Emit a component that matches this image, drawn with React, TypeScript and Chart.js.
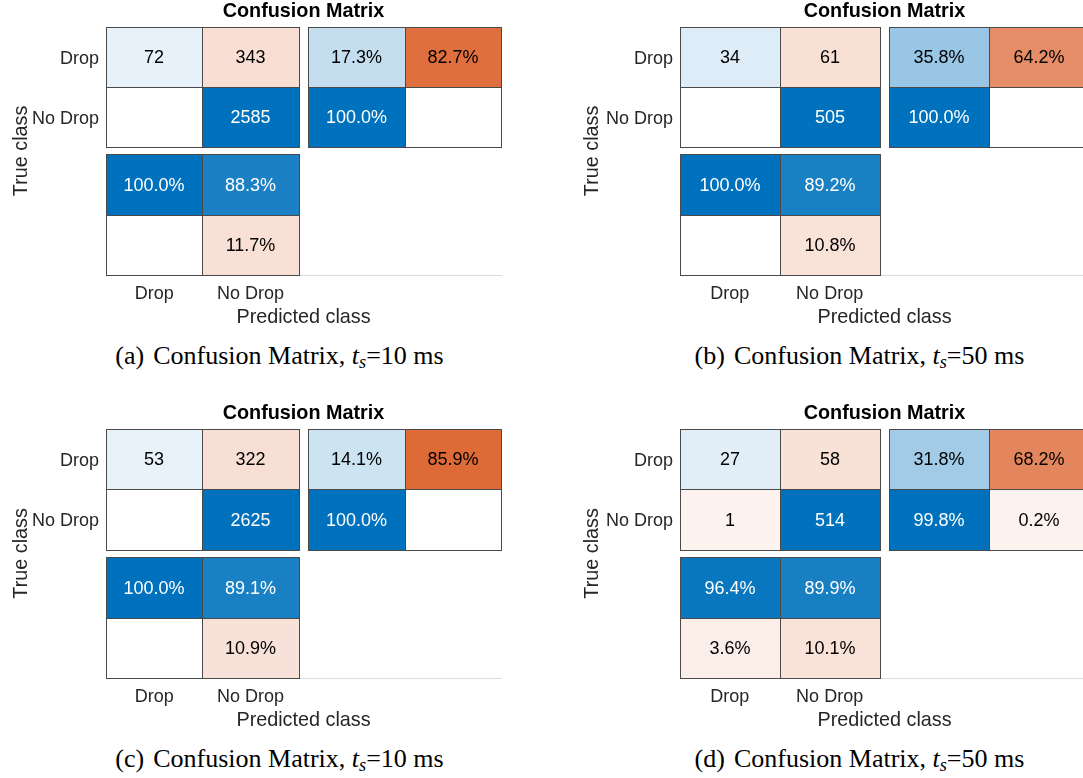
import React, { useEffect, useRef } from 'react';
import { Chart, registerables } from 'chart.js';

Chart.register(...registerables);

// Class names shared by every matrix (true class rows, predicted class columns)
const CLASS_LABELS = ['Drop', 'No Drop'];

// Confusion counts: rows = true class, columns = predicted class
const COUNTS_A = [
  [72, 343],
  [0, 2585],
];
const COUNTS_B = [
  [34, 61],
  [0, 505],
];
const COUNTS_C = [
  [53, 322],
  [0, 2625],
];
const COUNTS_D = [
  [27, 58],
  [1, 514],
];

const PANEL_COUNTS = [COUNTS_A, COUNTS_B, COUNTS_C, COUNTS_D];
const PANEL_TAGS = ['(a)', '(b)', '(c)', '(d)'];
const SAMPLING_MS = [10, 50, 10, 50];

// Gaps (in cell units) between the matrix and its summary blocks
const GAP_X = 0.1;
const GAP_Y = 0.12;

const BLUE = [0, 114, 189];
const ORANGE = [217, 83, 25];
const SANS = '"Liberation Sans", Arial, Helvetica, sans-serif';
const SERIF = '"Liberation Serif", "Times New Roman", Times, serif';
const AXIS_TEXT = '#262626';

// Canvas placement of each panel on the page
const FRAMES = [
  { left: 0, top: 0, width: 541, height: 335, axisW: 106, padRight: 40, capX: 279.5, capTop: 343 },
  { left: 571, top: 0, width: 518, height: 335, axisW: 109, padRight: 0, capX: 859.5, capTop: 343 },
  { left: 0, top: 402, width: 541, height: 336, axisW: 106, padRight: 40, capX: 279.5, capTop: 745.5 },
  { left: 571, top: 402, width: 518, height: 336, axisW: 109, padRight: 0, capX: 859.5, capTop: 745.5 },
];

type Cell = {
  x0: number;
  x1: number;
  y0: number;
  y1: number;
  fill: string;
  label: string;
  textColor: string;
};

function shade(base: number[], ratio: number) {
  if (ratio <= 0) return { fill: '#ffffff', alpha: 0 };
  const a = Math.min(1, 0.07 + 0.93 * ratio);
  const ch = base.map((v) => Math.round(255 + (v - 255) * a));
  return { fill: `rgb(${ch.join(',')})`, alpha: a };
}

function makeCell(x0: number, y0: number, base: number[], ratio: number, label: string): Cell {
  const s = shade(base, ratio);
  const textColor = base === BLUE && s.alpha > 0.5 ? '#ffffff' : '#000000';
  return { x0, x1: x0 + 1, y0, y1: y0 + 1, fill: s.fill, label, textColor };
}

const pct = (v: number) => (v > 0 ? `${(v * 100).toFixed(1)}%` : '');

function buildCells(counts: number[][]): Cell[] {
  const n = counts.length;
  const maxCount = Math.max(...counts.flat());
  const cells: Cell[] = [];
  // main matrix
  for (let r = 0; r < n; r++) {
    for (let c = 0; c < n; c++) {
      const v = counts[r][c];
      cells.push(makeCell(c, r, r === c ? BLUE : ORANGE, v / maxCount, v > 0 ? String(v) : ''));
    }
  }
  // row summary (per true class)
  for (let r = 0; r < n; r++) {
    const total = counts[r].reduce((s, v) => s + v, 0);
    const good = counts[r][r] / total;
    const bad = (total - counts[r][r]) / total;
    cells.push(makeCell(n + GAP_X, r, BLUE, good, pct(good)));
    cells.push(makeCell(n + GAP_X + 1, r, ORANGE, bad, pct(bad)));
  }
  // column summary (per predicted class)
  for (let c = 0; c < n; c++) {
    const total = counts.reduce((s, row) => s + row[c], 0);
    const good = counts[c][c] / total;
    const bad = (total - counts[c][c]) / total;
    cells.push(makeCell(c, n + GAP_Y, BLUE, good, pct(good)));
    cells.push(makeCell(c, n + GAP_Y + 1, ORANGE, bad, pct(bad)));
  }
  return cells;
}

const confusionCellsPlugin = {
  id: 'confusionCells',
  afterDatasetsDraw(chart: any, _args: any, opts: any) {
    const { ctx } = chart;
    const xs = chart.scales.x;
    const ys = chart.scales.y;
    const cells: Cell[] = opts.cells || [];
    const px = (v: number) => Math.round(xs.getPixelForValue(v));
    const py = (v: number) => Math.round(ys.getPixelForValue(v));
    const rects = cells.map((c) => {
      const l = px(c.x0);
      const r = px(c.x1);
      const a = py(c.y0);
      const b = py(c.y1);
      return { l, r, t: Math.min(a, b), b: Math.max(a, b), cell: c };
    });
    ctx.save();
    rects.forEach(({ l, r, t, b, cell }) => {
      ctx.fillStyle = cell.fill;
      ctx.fillRect(l, t, r - l, b - t);
    });
    ctx.lineWidth = 1;
    ctx.strokeStyle = '#4a4a4a';
    rects.forEach(({ l, r, t, b }) => {
      ctx.strokeRect(l + 0.5, t + 0.5, r - l, b - t);
    });
    ctx.font = `18px ${SANS}`;
    ctx.textAlign = 'center';
    ctx.textBaseline = 'middle';
    rects.forEach(({ l, r, t, b, cell }) => {
      if (!cell.label) return;
      ctx.fillStyle = cell.textColor;
      ctx.fillText(cell.label, (l + r) / 2, (t + b) / 2 + 1.5);
    });
    ctx.restore();
  },
};

function makeConfig(counts: number[][], frame: (typeof FRAMES)[number]) {
  const n = counts.length;
  const tickFont = { family: SANS, size: 18 };
  const titleFont = { family: SANS, size: 19.8, lineHeight: 1.2 };
  const classTicks = (s: any) => {
    s.ticks = CLASS_LABELS.map((_, i) => ({ value: i + 0.5 }));
  };
  return {
    type: 'scatter' as const,
    data: { datasets: [] },
    options: {
      responsive: false,
      animation: false as const,
      devicePixelRatio: 1,
      events: [],
      layout: { padding: { left: 0, right: frame.padRight, top: 0, bottom: 0 } },
      plugins: {
        legend: { display: false },
        tooltip: { enabled: false },
        title: {
          display: true,
          text: 'Confusion Matrix',
          fullSize: false,
          color: '#000000',
          font: { family: SANS, size: 19.8, weight: 'bold' as const, lineHeight: 1.2 },
          padding: { top: 0, bottom: 3 },
        },
        confusionCells: { cells: buildCells(counts) },
      },
      scales: {
        x: {
          type: 'linear' as const,
          position: 'bottom' as const,
          min: 0,
          max: n + GAP_X + 2,
          bounds: 'data' as const,
          grid: { display: false, drawTicks: false },
          border: { display: true, color: '#dcdcdc', width: 1 },
          ticks: {
            font: tickFont,
            color: AXIS_TEXT,
            padding: 8,
            autoSkip: false,
            maxRotation: 0,
            callback: (_v: any, i: number) => CLASS_LABELS[i],
          },
          afterBuildTicks: classTicks,
          afterFit: (s: any) => {
            s.height = 60;
          },
          title: {
            display: true,
            text: 'Predicted class',
            color: AXIS_TEXT,
            font: titleFont,
            padding: { top: 0, bottom: 6 },
          },
        },
        y: {
          type: 'linear' as const,
          reverse: true,
          min: 0,
          max: n + GAP_Y + 2,
          bounds: 'data' as const,
          grid: { display: false, drawTicks: false },
          border: { display: false },
          ticks: {
            font: tickFont,
            color: AXIS_TEXT,
            padding: 7,
            labelOffset: 2,
            autoSkip: false,
            callback: (_v: any, i: number) => CLASS_LABELS[i],
          },
          afterBuildTicks: classTicks,
          afterFit: (s: any) => {
            s.width = frame.axisW;
          },
          title: {
            display: true,
            text: 'True class',
            color: AXIS_TEXT,
            font: titleFont,
            padding: { top: 10, bottom: 0 },
          },
        },
      },
    },
    plugins: [confusionCellsPlugin],
  };
}

export default function App() {
  const canvasRefs = useRef<(HTMLCanvasElement | null)[]>([]);

  useEffect(() => {
    const charts = PANEL_COUNTS.map((counts, i) => {
      const canvas = canvasRefs.current[i] as HTMLCanvasElement;
      return new Chart(canvas, makeConfig(counts, FRAMES[i]) as any);
    });
    return () => charts.forEach((c) => c.destroy());
  }, []);

  return (
    <div
      style={{
        position: 'absolute',
        left: 0,
        top: 0,
        width: 1083,
        height: 778,
        overflow: 'hidden',
        background: '#ffffff',
      }}
    >
      {FRAMES.map((f, i) => (
        <canvas
          key={`c${i}`}
          ref={(el) => {
            canvasRefs.current[i] = el;
          }}
          width={f.width}
          height={f.height}
          style={{ position: 'absolute', left: f.left, top: f.top, width: f.width, height: f.height }}
        />
      ))}
      {FRAMES.map((f, i) => (
        <div
          key={`t${i}`}
          style={{
            position: 'absolute',
            left: f.capX - 250,
            top: f.capTop,
            width: 500,
            textAlign: 'center',
            fontFamily: SERIF,
            fontSize: 26,
            lineHeight: 1,
            color: '#000000',
            whiteSpace: 'nowrap',
          }}
        >
          {PANEL_TAGS[i]}
          <span style={{ marginLeft: 9 }}>Confusion Matrix, </span>
          <i>t</i>
          <span style={{ fontStyle: 'italic', fontSize: '0.7em', position: 'relative', top: '0.24em' }}>s</span>
          {`=${SAMPLING_MS[i]} ms`}
        </div>
      ))}
    </div>
  );
}
